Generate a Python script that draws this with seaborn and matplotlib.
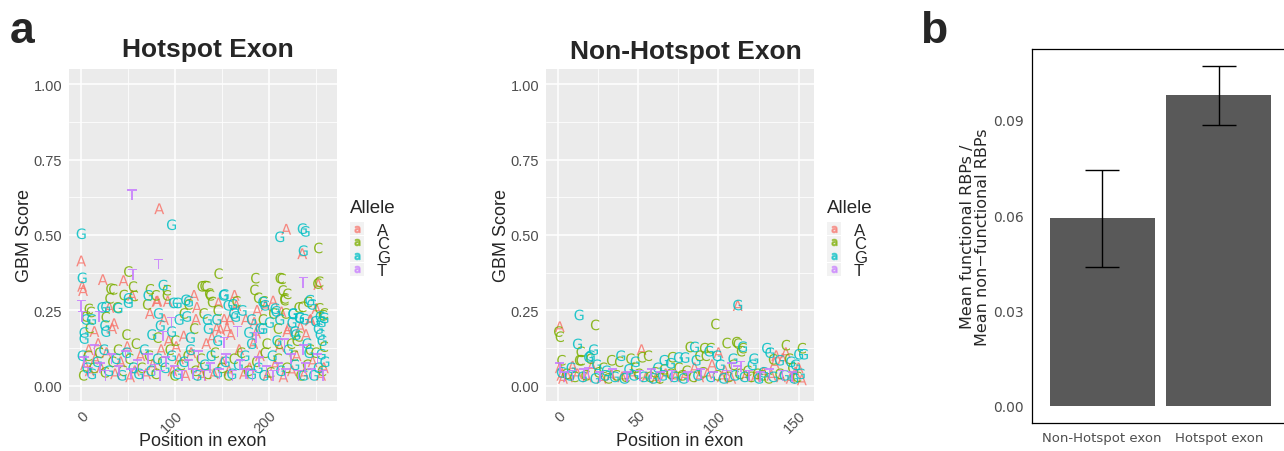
import matplotlib
matplotlib.use("Agg")
import matplotlib.pyplot as plt
from matplotlib.lines import Line2D
from matplotlib.patches import Patch
import seaborn as sns
import pandas as pd

# ---- data: Hotspot exon ----
hot_A_pos = [0, 1, 2, 23, 45, 83, 218, 235, 252, 54,
             30, 33, 35, 14, 81, 73, 80, 92, 120, 123,
             146, 163, 165, 196, 187, 204, 213, 220, 219, 233,
             239, 243, 244, 250, 152, 158, 144, 148, 155, 159,
             175, 184, 186, 139, 109, 122, 88, 93, 8, 4,
             9, 15, 21, 27, 36, 42, 49, 57, 63, 69,
             76, 85, 97, 104, 111, 117, 126, 133, 141, 150,
             157, 168, 173, 179, 190, 198, 206, 211, 224, 229,
             237, 246, 255, 258, 18, 52, 101, 128, 183, 215]
hot_A_score = [0.414, 0.330, 0.316, 0.352, 0.349, 0.587, 0.519, 0.438, 0.336, 0.300,
               0.260, 0.190, 0.206, 0.180, 0.281, 0.240, 0.280, 0.280, 0.300, 0.260,
               0.275, 0.300, 0.266, 0.265, 0.250, 0.281, 0.245, 0.190, 0.180, 0.195,
               0.170, 0.217, 0.220, 0.256, 0.220, 0.220, 0.190, 0.185, 0.190, 0.170,
               0.220, 0.210, 0.175, 0.160, 0.165, 0.220, 0.220, 0.150, 0.120, 0.070,
               0.050, 0.090, 0.060, 0.110, 0.040, 0.080, 0.130, 0.050, 0.100, 0.040,
               0.070, 0.120, 0.050, 0.090, 0.035, 0.110, 0.060, 0.140, 0.040, 0.080,
               0.050, 0.120, 0.040, 0.060, 0.100, 0.035, 0.070, 0.130, 0.050, 0.100,
               0.040, 0.080, 0.035, 0.060, 0.140, 0.030, 0.130, 0.035, 0.140, 0.030]

hot_C_pos = [50, 55, 31, 34, 45, 30, 56, 8, 5, 10,
             38, 26, 9, 48, 91, 73, 79, 91, 70, 114,
             128, 81, 100, 120, 109, 130, 131, 136, 146, 165,
             145, 137, 133, 185, 184, 188, 194, 193, 197, 139,
             211, 213, 214, 219, 216, 216, 252, 253, 251, 231,
             235, 253, 258, 204, 217, 209, 231, 229, 258, 210,
             223, 243, 241, 257, 2, 7, 13, 19, 25, 33,
             39, 44, 51, 58, 64, 72, 79, 86, 94, 99,
             106, 113, 121, 127, 134, 142, 149, 156, 162, 170,
             177, 186, 195, 201, 209, 218, 226, 233, 240, 249, 256]
hot_C_score = [0.379, 0.329, 0.322, 0.320, 0.301, 0.290, 0.298, 0.255, 0.230, 0.245,
               0.260, 0.228, 0.192, 0.170, 0.317, 0.320, 0.300, 0.300, 0.270, 0.270,
               0.330, 0.160, 0.150, 0.190, 0.240, 0.240, 0.331, 0.306, 0.372, 0.280,
               0.250, 0.300, 0.330, 0.357, 0.318, 0.292, 0.280, 0.220, 0.140, 0.278,
               0.357, 0.355, 0.316, 0.305, 0.290, 0.284, 0.457, 0.345, 0.339, 0.260,
               0.262, 0.257, 0.240, 0.240, 0.240, 0.190, 0.164, 0.150, 0.130, 0.140,
               0.140, 0.120, 0.278, 0.234, 0.035, 0.100, 0.060, 0.110, 0.045, 0.080,
               0.120, 0.050, 0.090, 0.140, 0.060, 0.100, 0.040, 0.080, 0.120, 0.035,
               0.070, 0.100, 0.050, 0.090, 0.040, 0.110, 0.060, 0.035, 0.090, 0.110,
               0.050, 0.080, 0.110, 0.045, 0.090, 0.060, 0.100, 0.035, 0.070, 0.110, 0.050]

hot_G_pos = [0, 1, 3, 96, 211, 235, 238, 236, 50, 50,
             22, 26, 39, 5, 11, 25, 26, 3, 87, 71,
             98, 102, 111, 82, 84, 96, 75, 116, 112, 104,
             152, 151, 161, 171, 162, 164, 181, 144, 134, 200,
             135, 178, 190, 193, 145, 181, 193, 195, 243, 245,
             207, 225, 232, 237, 249, 255, 254, 258, 206, 225,
             232, 211, 224, 227, 228, 240, 252, 254, 256, 208,
             255, 156, 114, 1, 6, 11, 17, 24, 29, 37,
             43, 48, 55, 61, 67, 74, 81, 89, 96, 102,
             109, 116, 123, 131, 138, 145, 153, 160, 167, 174,
             181, 188, 194, 203, 212, 220, 227, 236, 242, 247, 252, 259]
hot_G_score = [0.504, 0.358, 0.157, 0.534, 0.494, 0.521, 0.512, 0.448, 0.290, 0.276,
               0.260, 0.262, 0.258, 0.220, 0.220, 0.200, 0.180, 0.177, 0.334, 0.300,
               0.275, 0.275, 0.285, 0.240, 0.200, 0.180, 0.170, 0.160, 0.230, 0.220,
               0.303, 0.300, 0.270, 0.250, 0.240, 0.230, 0.220, 0.220, 0.220, 0.210,
               0.190, 0.177, 0.190, 0.190, 0.150, 0.140, 0.278, 0.267, 0.284, 0.270,
               0.247, 0.238, 0.225, 0.221, 0.214, 0.212, 0.230, 0.225, 0.256, 0.240,
               0.227, 0.220, 0.210, 0.180, 0.170, 0.140, 0.190, 0.170, 0.150, 0.150,
               0.105, 0.267, 0.280, 0.100, 0.060, 0.040, 0.080, 0.120, 0.050, 0.090,
               0.035, 0.110, 0.060, 0.040, 0.120, 0.050, 0.090, 0.060, 0.100, 0.040,
               0.080, 0.120, 0.035, 0.070, 0.100, 0.045, 0.080, 0.040, 0.070, 0.100,
               0.040, 0.060, 0.035, 0.100, 0.050, 0.120, 0.070, 0.035, 0.110, 0.035, 0.060, 0.080]

hot_T_pos = [54, 82, 55, 0, 1, 236, 19, 96, 87, 166,
             152, 216, 236, 186, 3, 8, 14, 20, 26, 32,
             40, 47, 53, 60, 66, 71, 78, 84, 90, 99,
             107, 114, 119, 125, 131, 137, 147, 154, 161, 169,
             175, 182, 189, 197, 204, 210, 217, 223, 231, 238,
             245, 251, 257]
hot_T_score = [0.633, 0.404, 0.369, 0.266, 0.230, 0.343, 0.230, 0.210, 0.165, 0.180,
               0.145, 0.140, 0.120, 0.160, 0.080, 0.045, 0.120, 0.060, 0.035, 0.090,
               0.050, 0.100, 0.040, 0.070, 0.035, 0.090, 0.055, 0.035, 0.080, 0.050,
               0.035, 0.070, 0.040, 0.100, 0.035, 0.060, 0.040, 0.090, 0.035, 0.070,
               0.040, 0.035, 0.080, 0.050, 0.035, 0.060, 0.040, 0.090, 0.035, 0.060,
               0.040, 0.090, 0.035]

# ---- data: Non-Hotspot exon ----
non_A_pos = [1, 52, 100, 112, 136, 142, 135, 140, 150, 152,
             1, 9, 21, 85, 96, 104, 3, 2, 6, 12,
             18, 27, 33, 40, 46, 55, 61, 67, 73, 79,
             88, 93, 102, 108, 117, 123, 128, 133, 139, 145, 148]
non_A_score = [0.196, 0.120, 0.110, 0.266, 0.100, 0.110, 0.075, 0.090, 0.060, 0.020,
               0.060, 0.065, 0.065, 0.060, 0.070, 0.050, 0.025, 0.035, 0.030, 0.040,
               0.030, 0.025, 0.035, 0.030, 0.040, 0.030, 0.025, 0.040, 0.030, 0.035,
               0.030, 0.040, 0.030, 0.025, 0.035, 0.030, 0.045, 0.035, 0.030, 0.025, 0.045]

non_C_pos = [0, 1, 23, 14, 2, 13, 14, 33, 38, 45,
             52, 56, 71, 98, 105, 111, 112, 115, 114, 82,
             91, 95, 88, 92, 109, 142, 152, 134, 144, 118,
             146, 20, 28, 48, 60, 66, 75, 80, 124, 5,
             10, 17, 25, 31, 36, 42, 50, 57, 63, 70,
             77, 84, 90, 99, 106, 113, 120, 127, 131, 138, 149]
non_C_score = [0.180, 0.163, 0.202, 0.113, 0.085, 0.085, 0.085, 0.085, 0.080, 0.090,
               0.095, 0.100, 0.095, 0.205, 0.142, 0.145, 0.140, 0.125, 0.115, 0.129,
               0.125, 0.125, 0.100, 0.100, 0.070, 0.135, 0.125, 0.088, 0.090, 0.050,
               0.060, 0.090, 0.060, 0.060, 0.045, 0.055, 0.060, 0.050, 0.040, 0.040,
               0.030, 0.035, 0.045, 0.025, 0.035, 0.030, 0.040, 0.030, 0.025, 0.040,
               0.035, 0.030, 0.045, 0.035, 0.030, 0.040, 0.030, 0.035, 0.025, 0.040, 0.030]

non_G_pos = [13, 12, 20, 19, 22, 39, 48, 66, 70, 112,
             85, 94, 99, 86, 75, 79, 115, 150, 153, 130,
             132, 138, 122, 121, 109, 128, 145, 148, 101, 62,
             30, 8, 24, 44, 2, 7, 15, 23, 29, 35,
             41, 47, 53, 59, 65, 72, 78, 87, 95, 103,
             110, 116, 125, 134, 141, 147, 151]
non_G_score = [0.235, 0.139, 0.100, 0.095, 0.120, 0.100, 0.080, 0.085, 0.075, 0.268,
               0.129, 0.115, 0.100, 0.085, 0.094, 0.094, 0.130, 0.105, 0.105, 0.125,
               0.110, 0.085, 0.090, 0.070, 0.090, 0.045, 0.080, 0.070, 0.070, 0.060,
               0.050, 0.060, 0.070, 0.055, 0.045, 0.035, 0.030, 0.025, 0.035, 0.030,
               0.025, 0.035, 0.030, 0.025, 0.035, 0.030, 0.025, 0.035, 0.030, 0.025,
               0.035, 0.030, 0.025, 0.030, 0.035, 0.025, 0.040]

non_T_pos = [114, 1, 19, 108, 112, 4, 9, 16, 26, 34,
             43, 51, 58, 64, 71, 81, 89, 97, 105, 119,
             126, 132, 140, 146]
non_T_score = [0.065, 0.060, 0.045, 0.060, 0.050, 0.030, 0.035, 0.040, 0.030, 0.040,
               0.030, 0.035, 0.040, 0.030, 0.035, 0.030, 0.040, 0.030, 0.035, 0.035,
               0.030, 0.040, 0.035, 0.030]

alleles = ["A", "C", "G", "T"]
allele_colors = ["#F8766D", "#7CAE00", "#00BFC4", "#C77CFF"]

# ---- data: panel b ----
exon_groups = ["Non-Hotspot exon", "Hotspot exon"]
ratio_mean = [0.0590, 0.0977]
ratio_low = [0.0437, 0.0885]
ratio_high = [0.0742, 0.1070]


def make_df(pos_lists, score_lists):
    parts = []
    for a, p, s in zip(alleles, pos_lists, score_lists):
        parts.append(pd.DataFrame({"pos": p, "score": s, "Allele": a}))
    return pd.concat(parts, ignore_index=True)


hot_df = make_df([hot_A_pos, hot_C_pos, hot_G_pos, hot_T_pos],
                 [hot_A_score, hot_C_score, hot_G_score, hot_T_score])
non_df = make_df([non_A_pos, non_C_pos, non_G_pos, non_T_pos],
                 [non_A_score, non_C_score, non_G_score, non_T_score])

sns.set_style("darkgrid", {"axes.facecolor": "#EBEBEB", "grid.color": "white"})
plt.rcParams["font.family"] = ["Liberation Sans", "DejaVu Sans"]

W, H = 1284, 452
fig = plt.figure(figsize=(W / 100, H / 100), dpi=100)

pal = dict(zip(alleles, allele_colors))
letter_markers = {a: r"$\mathrm{%s}$" % a for a in alleles}


def scatter_panel(ax, df, xmax, xticks, xminor, title, title_x, title_y):
    sns.scatterplot(data=df, x="pos", y="score", hue="Allele", style="Allele",
                    hue_order=alleles, style_order=alleles, palette=pal,
                    markers=letter_markers, s=60, linewidth=0, alpha=0.85,
                    legend=False, ax=ax)
    pad = 0.05 * xmax
    ax.set_xlim(-pad, xmax + pad)
    ax.set_ylim(-0.05, 1.05)
    ax.set_xticks(xticks)
    ax.set_xticklabels([str(t) for t in xticks], rotation=45, ha="right",
                       va="top", rotation_mode="anchor")
    ax.set_xticks(xminor, minor=True)
    ax.set_yticks([0, 0.25, 0.5, 0.75, 1.0])
    ax.set_yticklabels(["0.00", "0.25", "0.50", "0.75", "1.00"])
    ax.set_yticks([0.125, 0.375, 0.625, 0.875], minor=True)
    ax.grid(which="major", color="white", linewidth=1.1)
    ax.grid(which="minor", color="white", linewidth=0.55)
    ax.tick_params(which="major", length=3, width=0.8, color="#333333",
                   labelcolor="#4D4D4D", labelsize=10.5, pad=2)
    ax.tick_params(which="minor", length=0)
    for sp in ax.spines.values():
        sp.set_visible(False)
    ax.set_xlabel("Position in exon", fontsize=13, va="top")
    ax.xaxis.set_label_coords(0.5, -0.092)
    ax.set_ylabel("GBM Score", fontsize=13, labelpad=0)
    fig.text(title_x / W, 1 - title_y / H, title, fontsize=19,
             fontweight="bold", ha="center", va="baseline")
    handles = [(Patch(facecolor="#F2F2F2", edgecolor="none"),
                Line2D([], [], linestyle="none", marker=r"$\mathrm{a}$",
                       color=c, markersize=4.5, alpha=0.6))
               for c in allele_colors]
    leg = ax.legend(handles, alleles, title="Allele", loc="center left",
                    bbox_to_anchor=(1.025, 0.49), frameon=False, fontsize=12,
                    title_fontsize=13.5, handlelength=0.8, handleheight=0.8,
                    handletextpad=0.8, labelspacing=-0.1, borderaxespad=0)
    leg._legend_box.align = "left"
    leg._legend_box.sep = 5


ax1 = fig.add_axes([69 / W, 50 / H, 268 / W, 332 / H])
scatter_panel(ax1, hot_df, 259, [0, 100, 200], [50, 150, 250],
              "Hotspot Exon", 208, 57)

ax2 = fig.add_axes([546 / W, 50 / H, 268 / W, 332 / H])
scatter_panel(ax2, non_df, 152, [0, 50, 100, 150], [25, 75, 125],
              "Non-Hotspot Exon", 686, 59)

# ---- panel b ----
ax3 = fig.add_axes([1032 / W, 28 / H, 257 / W, 374 / H])
ax3.set_facecolor("white")
bar_df = pd.DataFrame({"group": exon_groups, "ratio": ratio_mean})
sns.barplot(data=bar_df, x="group", y="ratio", color="#595959", saturation=1,
            width=0.9, errorbar=None, linewidth=0, ax=ax3)
err_lo = [m - l for m, l in zip(ratio_mean, ratio_low)]
err_hi = [h - m for m, h in zip(ratio_mean, ratio_high)]
ax3.errorbar(exon_groups, ratio_mean, yerr=[err_lo, err_hi], fmt="none",
             ecolor="black", elinewidth=1.0, capsize=12.5, capthick=1.0)
ax3.set_xlim(-0.6, 1.6)
ax3.set_ylim(-0.00535, 0.1123)
ax3.set_yticks([0, 0.03, 0.06, 0.09])
ax3.set_yticklabels(["0.00", "0.03", "0.06", "0.09"])
ax3.grid(False)
for sp in ax3.spines.values():
    sp.set_visible(True)
    sp.set_color("black")
    sp.set_linewidth(0.9)
ax3.tick_params(length=3, width=0.8, color="black", labelcolor="#4D4D4D",
                labelsize=10, pad=3)
for lab in ax3.get_xticklabels():
    lab.set_family("DejaVu Sans")
    lab.set_fontsize(9.5)
for lab in ax3.get_yticklabels():
    lab.set_family("DejaVu Sans")
ax3.set_xlabel("")
ax3.set_ylabel("Mean functional RBPs /\nMean non\u2212functional RBPs",
               fontsize=11.5, family="DejaVu Sans", linespacing=1.0, labelpad=2)

fig.text(10 / W, 1 - 43 / H, "a", fontsize=32, fontweight="bold",
         ha="left", va="baseline")
fig.text(920 / W, 1 - 43 / H, "b", fontsize=32, fontweight="bold",
         ha="left", va="baseline")

fig.savefig("out.png", dpi=100)
